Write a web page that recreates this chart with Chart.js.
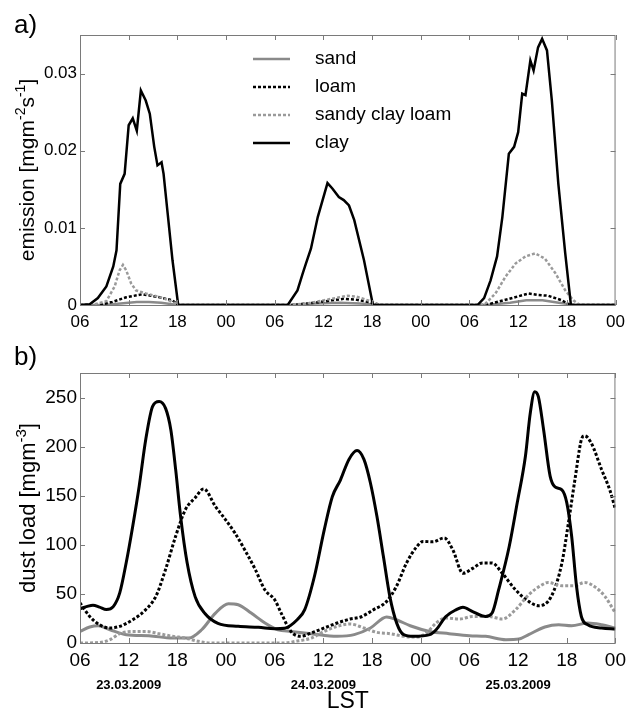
<!DOCTYPE html>
<html>
<head>
<meta charset="utf-8">
<script src="https://cdn.jsdelivr.net/npm/chart.js@4.4.1/dist/chart.umd.min.js"></script>
<style>
  body { margin: 0; background: #fff; }
  #wrap { position: relative; width: 632px; height: 711px; }
  #chartA { position: absolute; left: 0; top: 0; }
  #chartB { position: absolute; left: 0; top: 330px; }
</style>
</head>
<body>
<div id="wrap">
  <canvas id="chartA" width="632" height="330"></canvas>
  <canvas id="chartB" width="632" height="381"></canvas>
</div>
<script>
// hours since 06 LST on 23.03.2009
const xTicks = [0, 6, 12, 18, 24, 30, 36, 42, 48, 54, 60, 66];
const dateLabels = ['23.03.2009', '24.03.2009', '25.03.2009'];
const dateHours = [6, 30, 54];
const soilNames = ['sand', 'loam', 'sandy clay loam', 'clay'];

// a) emission [mg m-2 s-1]
const emSandH = [0, 3, 5, 7, 8.5, 10, 12, 26, 29, 32, 34.5, 37, 50, 53, 55, 57, 59, 61, 66];
const emSandV = [0, 0, 0.0002, 0.0004, 0.0004, 0.0003, 0, 0, 0.0002, 0.0003, 0.0002, 0, 0, 0.0003, 0.0006, 0.0006, 0.0003, 0, 0];
const emLoamH = [0, 2.4, 4, 5.7, 7.7, 9.8, 11.4, 12.1, 26, 29, 31, 32.5, 34, 36, 37, 50, 52.9, 55.3, 56.5, 57.7, 59.4, 60.4, 66];
const emLoamV = [0, 0, 0.0004, 0.001, 0.0014, 0.001, 0.0006, 0, 0, 0.0003, 0.0006, 0.0008, 0.0007, 0.0003, 0, 0, 0.0008, 0.0015, 0.0013, 0.0012, 0.0006, 0, 0];
const emSclH = [0, 1.5, 3.25, 4.27, 4.88, 5.29, 5.69, 6.3, 6.9, 8.1, 10.2, 11.4, 12.2, 25.5, 28, 30, 32, 33, 34, 35.5, 37, 49.8, 51.2, 52.46, 53.7, 54.9, 56.1, 57.3, 58.6, 59.8, 60.8, 61.6, 66];
const emSclV = [0, 0, 0.0005, 0.0024, 0.0045, 0.0052, 0.0045, 0.0028, 0.0019, 0.0015, 0.0009, 0.0004, 0, 0, 0.0002, 0.0006, 0.001, 0.0012, 0.0011, 0.0006, 0, 0, 0.0015, 0.0037, 0.0054, 0.0063, 0.0067, 0.006, 0.0041, 0.0019, 0.0006, 0, 0];
const emClayH = [0, 1.2, 2.2, 3.25, 4.1, 4.5, 4.96, 5.5, 6.0, 6.5, 7.0, 7.5, 8.1, 8.6, 9.15, 9.55, 10.05, 10.3, 10.8, 11.4, 12.1,
  25.6, 26.8, 27.45, 27.85, 28.46, 29.3, 30.5, 31.1, 31.9, 32.5, 33.15, 33.8, 35.0, 36.1,
  49.0, 49.8, 50.6, 51.4, 52.05, 52.85, 53.5, 54.0, 54.5, 54.9, 55.5, 55.9, 56.45, 56.95, 57.55, 58.15, 58.95, 59.8, 60.5, 66];
const emClayV = [0, 0.0001, 0.0009, 0.0024, 0.005, 0.0071, 0.0157, 0.017, 0.0233, 0.0242, 0.0226, 0.0278, 0.0265, 0.0248, 0.0205, 0.0181, 0.0185, 0.017, 0.0119, 0.0058, 0,
  0, 0.0019, 0.0041, 0.0054, 0.0073, 0.0114, 0.0158, 0.0151, 0.014, 0.0136, 0.0129, 0.011, 0.0058, 0,
  0, 0.0009, 0.0032, 0.0063, 0.0114, 0.0196, 0.0205, 0.0224, 0.0274, 0.0272, 0.0317, 0.0304, 0.0334, 0.0345, 0.033, 0.0265, 0.0157, 0.0067, 0, 0];

// b) dust load [mg m-3]
const dlSandH = [0, 1.2, 2.25, 3.7, 5.7, 8.5, 11.4, 13.4, 15, 16.7, 18.3, 19.5, 21.1, 22.8, 24.4, 26, 28.5, 31.7, 33.8, 35.8, 37.8, 39, 40.7, 43.1, 45.5, 48, 50, 52.5, 54.1, 55.3, 57.3, 59, 60.6, 62.6, 64.3, 66];
const dlSandV = [11.8, 16.3, 17.6, 13.5, 8.5, 7.4, 5, 5, 13.5, 30.5, 40, 39, 30.5, 20.4, 13.5, 11.8, 9.5, 6.8, 8.5, 15.3, 26.5, 23.7, 17.6, 11.8, 9.5, 7.4, 6.8, 3.4, 4, 8.5, 16.3, 18.6, 17.6, 20.4, 18.6, 15.3];
const dlLoamH = [0, 1.2, 2.4, 3.7, 4.9, 6.5, 8.1, 9.35, 10.55, 11.8, 13, 14.2, 15.25, 16.7, 17.9, 19.1, 20.3, 21.6, 22.8, 24, 24.8, 26, 27.2, 28.5, 30.1, 31.7, 33.3, 34.6, 36.2, 37.8, 39, 40.25, 41.5, 42.3, 43.5, 44.9, 45.95, 47.2, 48.4, 49.6, 50.8, 52.05, 53.7, 55.3, 56.5, 58.1, 59.4, 60.2, 61, 61.8, 62.2, 63, 64.3, 65.3, 66];
const dlLoamV = [41, 27, 18.6, 15.3, 17, 23.7, 34, 47.5, 75, 109, 136, 148, 157, 139, 126, 112, 95, 75, 54, 44, 30.5, 11.8, 6.8, 10.2, 15.3, 20.4, 24.4, 26.5, 34, 42.4, 57.6, 81.5, 98, 103.5, 103, 107, 95, 71, 76, 81.5, 81.5, 71, 54, 42.4, 38, 47.5, 81.5, 122, 166, 207, 211, 204, 176.5, 156, 136];
const dlSclH = [0, 2.4, 3.7, 4.9, 6.5, 8.1, 9.75, 11.4, 13, 14.6, 16.3, 20, 25, 26.8, 28.5, 30.1, 31.7, 33.3, 35, 36.6, 38.2, 39.9, 41.5, 42.7, 43.9, 45.1, 46.8, 48.4, 50.4, 52.05, 53.7, 55.3, 56.9, 57.7, 59.4, 61, 62.2, 63.4, 64.7, 66];
const dlSclV = [0, 0.5, 3.4, 9.5, 11.8, 11.8, 9.5, 6.8, 5, 1.7, 0, 0, 0, 2, 5, 11.8, 17, 19.3, 15.3, 10.8, 9.5, 6.8, 6, 10.2, 20.4, 25.5, 24.4, 27, 27, 24.4, 34, 49, 59, 61.7, 58.3, 58.3, 61.7, 57.6, 47.5, 30.5];
const dlClayH = [0, 0.8, 1.6, 2.4, 3.25, 4.1, 4.9, 5.7, 6.5, 7.3, 8.1, 8.95, 9.75, 10.55, 11.2, 11.8, 12.4, 13.2, 14.2, 15.4, 17, 19.5, 22, 24, 25.2, 26.8, 27.7, 28.9, 30.1, 31.1, 32.1, 33.15, 34.15, 35, 35.8, 36.6, 37.4, 38.2, 39.05, 39.9, 41.1, 43.1, 43.9, 45.1, 46.4, 47.2, 48.4, 50, 50.8, 51.6, 52.9, 53.9, 54.9, 55.5, 56.05, 56.5, 57.15, 57.95, 58.55, 59.4, 60, 60.6, 61.2, 61.8, 62.6, 64.3, 66];
const dlClayV = [35, 37, 38.5, 36.5, 34, 37, 51, 82, 119, 160, 207, 241, 246, 239, 217, 176, 129, 82, 47, 30, 20, 17, 16, 14.5, 15, 24, 34, 68, 115, 149, 166, 187, 196, 187, 163, 129, 88, 47, 20, 8.5, 6.8, 8.5, 13.5, 27, 34, 36.5, 32, 27, 30.5, 54, 98, 143, 190, 234, 256, 251, 217, 170, 159, 156, 143, 109, 58, 27, 18.6, 15.3, 14.3];

const FONT = 'Liberation Sans';
const styles = [
  { color: '#8a8a8a', dash: [] },
  { color: '#000000', dash: [3, 2] },
  { color: '#9a9a9a', dash: [3, 2] },
  { color: '#000000', dash: [] }
];

function pts(h, v) {
  return h.map((x, i) => ({ x: x, y: v[i] }));
}

function makeSets(series, width, smooth) {
  return series.map((s, i) => ({
    label: soilNames[i],
    data: pts(s[0], s[1]),
    borderColor: styles[i].color,
    borderDash: styles[i].dash,
    borderWidth: width,
    pointRadius: 0,
    fill: false,
    tension: smooth ? 0.4 : 0,
    cubicInterpolationMode: smooth ? 'monotone' : 'default',
    order: 4 - i
  }));
}

function hourLabel(v) {
  const h = (v + 6) % 24;
  return (h < 10 ? '0' : '') + h;
}

// draws a rotated axis title with superscript parts
function drawSupTitle(ctx, parts, cx, cy, size) {
  const small = Math.round(size * 0.68);
  let total = 0;
  parts.forEach(p => {
    ctx.font = (p[1] ? small : size) + 'px "' + FONT + '"';
    total += ctx.measureText(p[0]).width;
  });
  ctx.save();
  ctx.translate(cx, cy);
  ctx.rotate(-Math.PI / 2);
  ctx.fillStyle = '#000';
  ctx.textBaseline = 'alphabetic';
  ctx.textAlign = 'left';
  let u = -total / 2;
  const base = size * 0.34;
  parts.forEach(p => {
    ctx.font = (p[1] ? small : size) + 'px "' + FONT + '"';
    ctx.fillText(p[0], u, p[1] ? base - size * 0.42 : base);
    u += ctx.measureText(p[0]).width;
  });
  ctx.restore();
}

const framePlugin = {
  id: 'frame',
  afterDraw(chart, args, opts) {
    const ctx = chart.ctx;
    const a = chart.chartArea;
    const xs = chart.scales.x, ys = chart.scales.y;
    ctx.save();
    ctx.strokeStyle = '#7a7a7a';
    ctx.lineWidth = 1;
    ctx.strokeRect(a.left + 0.5, a.top + 0.5, a.right - a.left - 1, a.bottom - a.top);
    ctx.beginPath();
    xs.ticks.forEach(t => {
      const px = Math.round(xs.getPixelForValue(t.value)) + 0.5;
      ctx.moveTo(px, a.bottom); ctx.lineTo(px, a.bottom - 5);
      ctx.moveTo(px, a.top); ctx.lineTo(px, a.top + 5);
    });
    ys.ticks.forEach(t => {
      const py = Math.round(ys.getPixelForValue(t.value)) + 0.5;
      ctx.moveTo(a.left, py); ctx.lineTo(a.left + 5, py);
      ctx.moveTo(a.right, py); ctx.lineTo(a.right - 5, py);
    });
    ctx.stroke();
    ctx.restore();

    ctx.save();
    ctx.fillStyle = '#000';
    ctx.font = '26px "' + FONT + '"';
    ctx.textAlign = 'left';
    ctx.textBaseline = 'alphabetic';
    ctx.fillText(opts.panel, 14, opts.panelY);
    ctx.restore();

    drawSupTitle(ctx, opts.title, opts.titleX, (a.top + a.bottom) / 2, opts.titleSize);

    if (opts.legend) {
      ctx.save();
      chart.data.datasets.forEach((d, i) => {
        const y = 59 + i * 28;
        ctx.strokeStyle = d.borderColor;
        ctx.lineWidth = d.borderWidth;
        ctx.setLineDash(d.borderDash);
        ctx.beginPath();
        ctx.moveTo(253, y); ctx.lineTo(290, y);
        ctx.stroke();
        ctx.setLineDash([]);
        ctx.fillStyle = '#000';
        ctx.font = '19px "' + FONT + '"';
        ctx.textBaseline = 'middle';
        ctx.fillText(d.label, 315, y);
      });
      ctx.restore();
    }

    if (opts.dates) {
      ctx.save();
      ctx.fillStyle = '#000';
      ctx.textAlign = 'center';
      ctx.textBaseline = 'middle';
      ctx.font = 'bold 13px "' + FONT + '"';
      dateLabels.forEach((d, i) => {
        ctx.fillText(d, xs.getPixelForValue(dateHours[i]), opts.dateY);
      });
      ctx.font = '23px "' + FONT + '"';
      ctx.fillText('LST', (a.left + a.right) / 2, opts.lstY);
      ctx.restore();
    }
  }
};

function makeChart(id, sets, yMax, yStep, yFmt, tickSize, xPad, top, xHeight, frame) {
  return new Chart(document.getElementById(id), {
    type: 'line',
    data: { datasets: sets },
    options: {
      responsive: false,
      animation: false,
      layout: { padding: { left: 0, right: 11, top: top, bottom: 0 } },
      plugins: { legend: { display: false }, tooltip: { enabled: false }, frame: frame },
      scales: {
        x: {
          type: 'linear', min: 0, max: 66,
          afterFit: s => { s.height = xHeight; },
          afterBuildTicks: s => { s.ticks = xTicks.map(v => ({ value: v })); },
          grid: { display: false, drawTicks: false },
          border: { display: false },
          ticks: { callback: hourLabel, color: '#000', padding: xPad, maxRotation: 0, font: { family: FONT, size: tickSize } }
        },
        y: {
          min: 0, max: yMax,
          afterFit: s => { s.width = 80; },
          grid: { display: false, drawTicks: false },
          border: { display: false },
          ticks: { stepSize: yStep, includeBounds: false, callback: yFmt, color: '#000', padding: 3, font: { family: FONT, size: tickSize } }
        }
      }
    },
    plugins: [framePlugin]
  });
}

const setsA = makeSets([[emSandH, emSandV], [emLoamH, emLoamV], [emSclH, emSclV], [emClayH, emClayV]], 2.5, false);
const setsB = makeSets([[dlSandH, dlSandV], [dlLoamH, dlLoamV], [dlSclH, dlSclV], [dlClayH, dlClayV]], 3, true);

makeChart('chartA', setsA, 0.035, 0.01, v => v === 0 ? '0' : v.toFixed(2), 17, 7, 35, 25, {
  panel: 'a)', panelY: 33, titleX: 27,
  title: [['emission [mgm', false], ['-2', true], ['s', false], ['-1', true], [']', false]],
  titleSize: 21, legend: true, dates: false
});

makeChart('chartB', setsB, 275, 50, v => String(v), 19, 6, 43, 68, {
  panel: 'b)', panelY: 35, titleX: 28,
  title: [['dust load [mgm', false], ['-3', true], [']', false]],
  titleSize: 22, legend: false, dates: true, dateY: 355, lstY: 372
});
</script>
</body>
</html>
